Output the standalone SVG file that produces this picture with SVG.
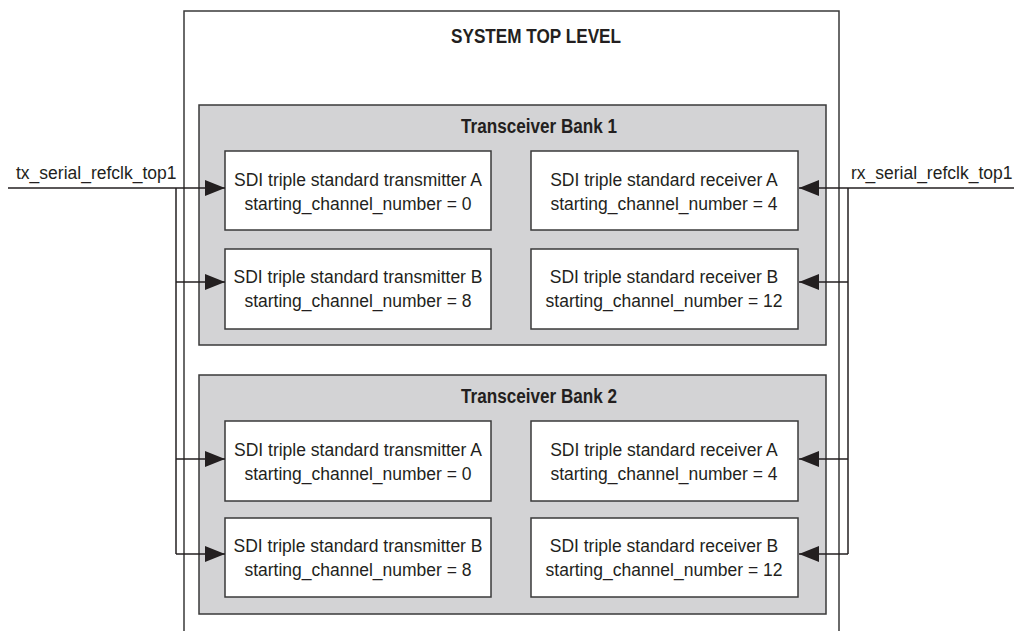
<svg xmlns="http://www.w3.org/2000/svg" width="1014" height="631" viewBox="0 0 1014 631">
<style>
text{font-family:"Liberation Sans",Arial,sans-serif;fill:#231f20}
.t{font-size:17.5px;text-anchor:middle}
.h{font-size:19.5px;font-weight:bold}
.l{font-size:17.5px}
.bank{fill:#d3d3d5;stroke:#3a3a3a;stroke-width:1.5}
.box{fill:#fff;stroke:#3a3a3a;stroke-width:1.5}
.w{fill:none;stroke:#231f20;stroke-width:1.5}
.ar{fill:#231f20}
</style>
<defs>
<marker id="ah" viewBox="0 0 20 16" refX="20" refY="8" markerWidth="20" markerHeight="16" markerUnits="userSpaceOnUse" orient="auto">
<path d="M0,0 L20,8 L0,16 Z" class="ar"/>
</marker>
</defs>
<g id="system">
<path d="M184,631 V11 H839 V631" fill="#fff" stroke="#3a3a3a" stroke-width="1.5"/>
<text class="h" x="451" y="43" textLength="170" lengthAdjust="spacingAndGlyphs">SYSTEM TOP LEVEL</text>
</g>
<g id="bank1">
<rect class="bank" x="199" y="105" width="627" height="240"/>
<text class="h" x="461" y="133" textLength="156" lengthAdjust="spacingAndGlyphs">Transceiver Bank 1</text>
</g>
<g id="bank2">
<rect class="bank" x="199" y="375" width="627" height="239"/>
<text class="h" x="461" y="403" textLength="156" lengthAdjust="spacingAndGlyphs">Transceiver Bank 2</text>
</g>
<g id="b1tA">
<rect class="box" x="225" y="151" width="266" height="79"/>
<text class="t" x="358" y="186">SDI triple standard transmitter A</text>
<text class="t" x="358" y="210">starting_channel_number = 0</text>
</g>
<g id="b1tB">
<rect class="box" x="225" y="249" width="266" height="80"/>
<text class="t" x="358" y="283">SDI triple standard transmitter B</text>
<text class="t" x="358" y="307">starting_channel_number = 8</text>
</g>
<g id="b1rA">
<rect class="box" x="531" y="151" width="267" height="79"/>
<text class="t" x="664" y="186">SDI triple standard receiver A</text>
<text class="t" x="664" y="210">starting_channel_number = 4</text>
</g>
<g id="b1rB">
<rect class="box" x="531" y="249" width="267" height="80"/>
<text class="t" x="664" y="283">SDI triple standard receiver B</text>
<text class="t" x="664" y="307">starting_channel_number = 12</text>
</g>
<g id="b2tA">
<rect class="box" x="225" y="421" width="266" height="80"/>
<text class="t" x="358" y="456">SDI triple standard transmitter A</text>
<text class="t" x="358" y="480">starting_channel_number = 0</text>
</g>
<g id="b2tB">
<rect class="box" x="225" y="518" width="266" height="79"/>
<text class="t" x="358" y="552">SDI triple standard transmitter B</text>
<text class="t" x="358" y="576">starting_channel_number = 8</text>
</g>
<g id="b2rA">
<rect class="box" x="531" y="421" width="267" height="80"/>
<text class="t" x="664" y="456">SDI triple standard receiver A</text>
<text class="t" x="664" y="480">starting_channel_number = 4</text>
</g>
<g id="b2rB">
<rect class="box" x="531" y="518" width="267" height="79"/>
<text class="t" x="664" y="552">SDI triple standard receiver B</text>
<text class="t" x="664" y="576">starting_channel_number = 12</text>
</g>
<g id="connectors">
<text class="l" x="16" y="179">tx_serial_refclk_top1</text>
<text class="l" x="851" y="179">rx_serial_refclk_top1</text>
<path class="w" d="M8,188 H225" marker-end="url(#ah)"/>
<path class="w" d="M176,188 V554"/>
<path class="w" d="M176,282 H225" marker-end="url(#ah)"/>
<path class="w" d="M176,459 H225" marker-end="url(#ah)"/>
<path class="w" d="M176,554 H225" marker-end="url(#ah)"/>
<path class="w" d="M1014,188 H799" marker-end="url(#ah)"/>
<path class="w" d="M848,188 V554"/>
<path class="w" d="M848,282 H799" marker-end="url(#ah)"/>
<path class="w" d="M848,459 H799" marker-end="url(#ah)"/>
<path class="w" d="M848,554 H799" marker-end="url(#ah)"/>
</g>
</svg>
